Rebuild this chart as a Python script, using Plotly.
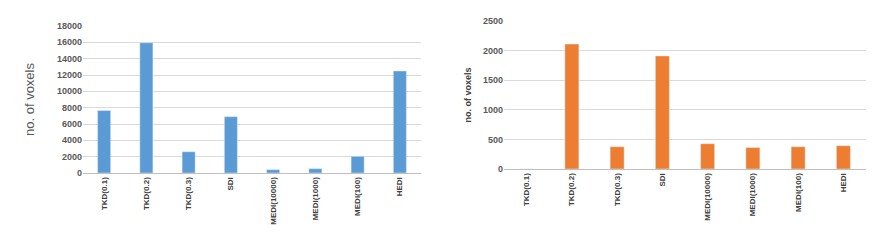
import plotly.graph_objects as go

categories = ["TKD(0.1)", "TKD(0.2)", "TKD(0.3)", "SDI", "MEDI(10000)", "MEDI(1000)", "MEDI(100)", "HEDI"]
left_values = [7650, 15950, 2600, 6900, 410, 530, 2040, 12500]
right_values = [0, 2110, 376, 1910, 427, 362, 376, 393]

W, H = 896, 246
fig = go.Figure()
fig.add_trace(go.Bar(x=categories, y=left_values, marker_color="#5B9BD5", xaxis="x", yaxis="y", width=0.31))
fig.add_trace(go.Bar(x=categories, y=right_values, marker_color="#ED7D31", xaxis="x2", yaxis="y2", width=0.31))

tickfont = dict(family="Liberation Sans", size=9, color="#595959", weight="bold")
xcommon = dict(tickangle=-90, showgrid=False, showline=True, linecolor="#BFBFBF", linewidth=1,
               ticks="", tickfont=dict(family="Liberation Sans Narrow, Liberation Sans", size=8, color="#404040", weight="bold"),
               fixedrange=True, automargin=False)
ycommon = dict(showgrid=True, gridcolor="#D9D9D9", gridwidth=1, zeroline=False, showline=False,
               ticks="", tickfont=tickfont, tickformat="d", exponentformat="none", automargin=False,
               fixedrange=True)

fig.update_layout(
    width=W, height=H, margin=dict(l=0, r=0, t=0, b=0),
    paper_bgcolor="white", plot_bgcolor="white", showlegend=False,
    xaxis=dict(domain=[83/W, 421/W], anchor="y", **xcommon),
    yaxis=dict(domain=[1-173/H, 1-26/H], anchor="x", range=[0, 18000], dtick=2000,
               title=dict(text="no. of voxels", font=dict(family="Liberation Sans", size=13, color="#595959"), standoff=19),
               **ycommon),
    xaxis2=dict(domain=[504/W, 866/W], anchor="y2", **xcommon),
    yaxis2=dict(domain=[1-169/H, 1-21/H], anchor="x2", range=[0, 2500], dtick=500,
                title=dict(text="no. of voxels", font=dict(family="Liberation Sans", size=9, color="#404040", weight="bold"), standoff=9),
                **ycommon),
)
fig.write_html("out.html", config={"displayModeBar": False},
               post_script="document.body.style.margin='0';document.body.style.overflow='hidden';")
